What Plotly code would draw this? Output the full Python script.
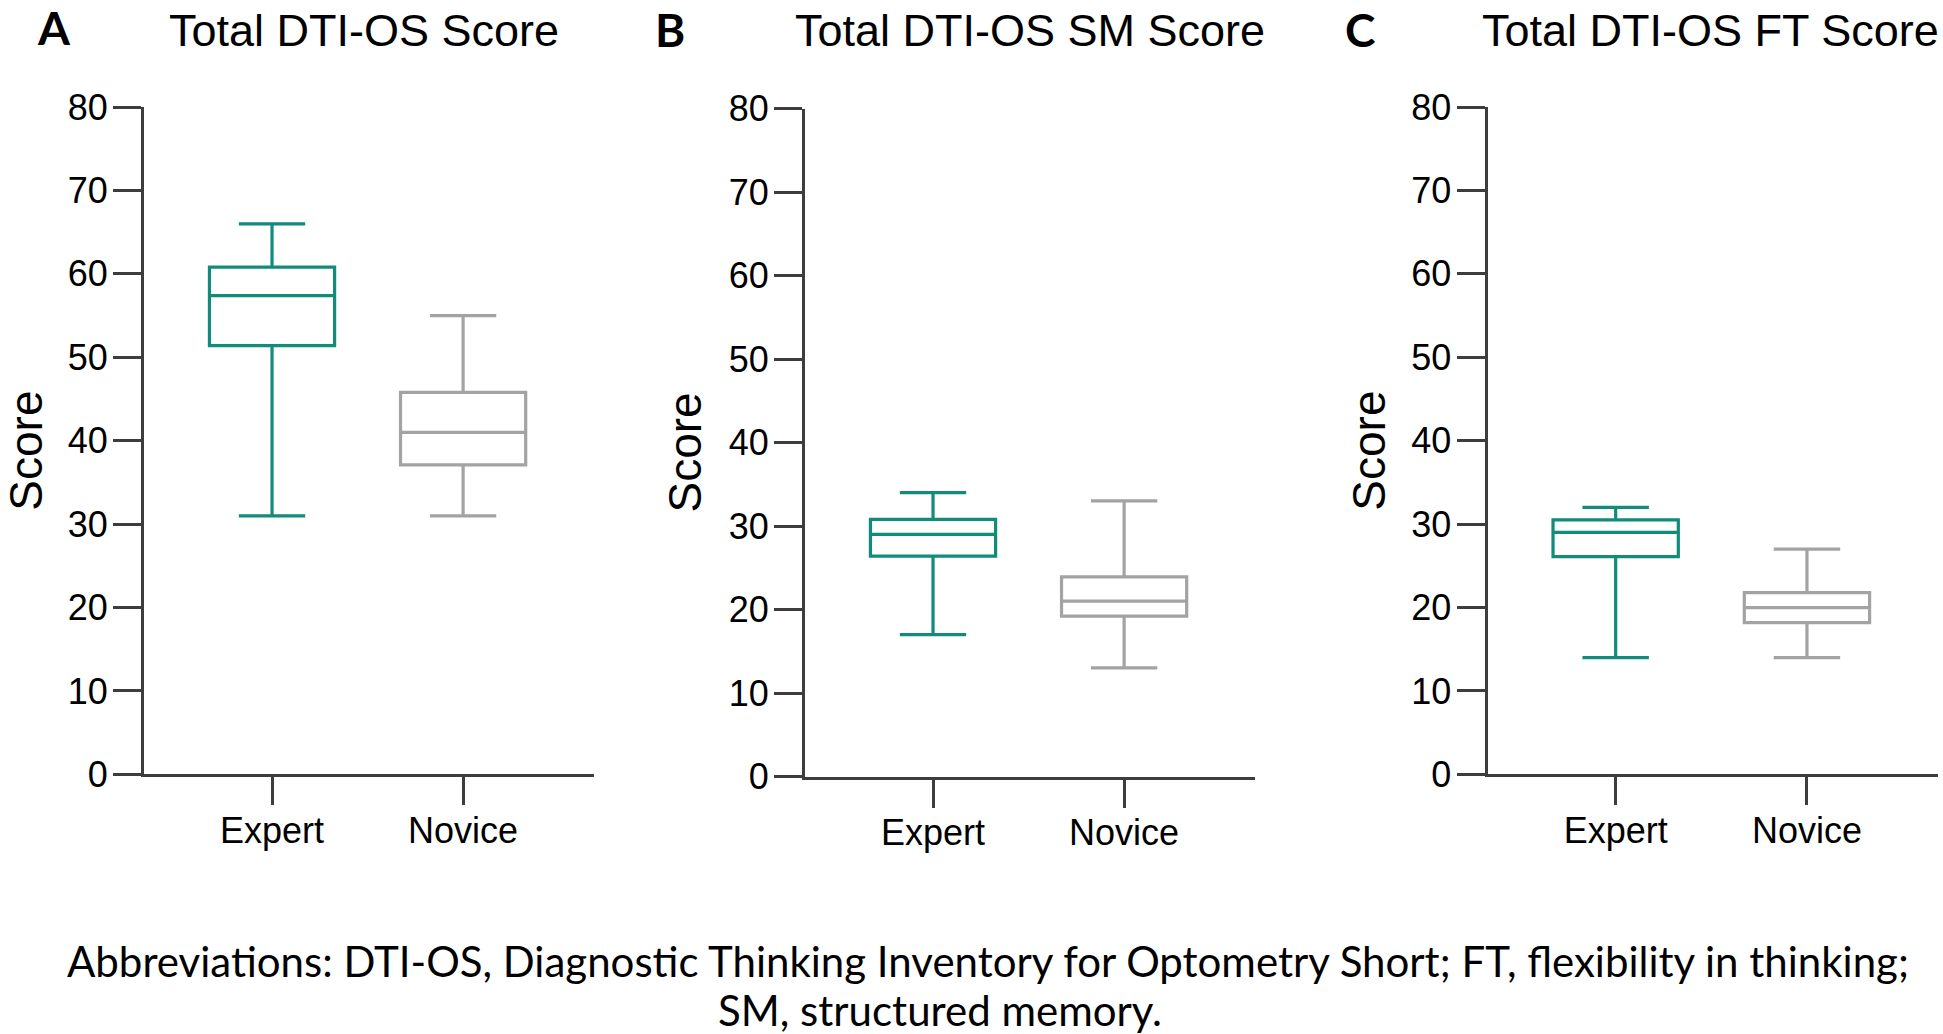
import plotly.graph_objects as go

# ---- data ----
groups = ["Expert", "Novice"]
panel_letters = ["A", "B", "C"]
panel_titles = ["Total DTI-OS Score", "Total DTI-OS SM Score", "Total DTI-OS FT Score"]

# box statistics per panel, [Expert, Novice]
lower = [[31, 31], [17, 13], [14, 14]]
q1 = [[51.4, 37.1], [26.4, 19.2], [26.1, 18.2]]
median = [[57.4, 41.0], [29.0, 21.0], [29.0, 20.0]]
q3 = [[60.8, 45.8], [30.8, 23.9], [30.5, 21.8]]
upper = [[66, 55], [34, 33], [32, 27]]

y_ticks = list(range(0, 81, 10))
caption_lines = [
    "Abbreviations: DTI-OS, Diagnostic Thinking Inventory for Optometry Short; FT, flexibility in thinking;",
    "SM, structured memory.",
]

# ---- styling / layout ----
W, H = 1943, 1034
colors = ["#128c7a", "#a3a3a3"]
axis_color = "#3d3d3d"
arial = "Liberation Sans, Arial, sans-serif"

# pixel boxes of the three plot areas: (left, right, top, bottom)
panels_px = [(144, 594, 107, 774.4), (805, 1255, 108.5, 776.5), (1487.5, 1938, 107, 774.4)]
title_left = [166.7, 793.3, 1480]
letter_x = [54, 670, 1359.5]
letter_y = [27.5, 29, 29]
score_x = [26, 684, 1369]


def fx(px):
    return px / W


def fy(py):
    return 1 - py / H


fig = go.Figure()
layout = dict(
    width=W, height=H,
    margin=dict(l=0, r=0, t=0, b=0, autoexpand=False),
    paper_bgcolor="white", plot_bgcolor="white",
    boxmode="overlay", showlegend=False,
)
annotations = []

for i in range(3):
    left, right, top, bottom = panels_px[i]
    sfx = "" if i == 0 else str(i + 1)
    for g in range(2):
        fig.add_trace(go.Box(
            x=[groups[g]], q1=[q1[i][g]], median=[median[i][g]], q3=[q3[i][g]],
            lowerfence=[lower[i][g]], upperfence=[upper[i][g]],
            width=0.655, whiskerwidth=0.53, boxpoints=False,
            line=dict(color=colors[g], width=3.2), fillcolor="rgba(0,0,0,0)",
            xaxis="x" + sfx, yaxis="y" + sfx, name=groups[g],
        ))
    common = dict(
        showline=True, linecolor=axis_color, linewidth=3,
        ticks="outside", tickcolor=axis_color, tickwidth=3, ticklen=28,
        showgrid=False, zeroline=False, automargin=False,
        tickfont=dict(family=arial, size=36, color="black"),
    )
    layout["xaxis" + sfx] = dict(
        common, domain=[fx(left), fx(right)], anchor="y" + sfx,
        type="category", categoryorder="array", categoryarray=groups,
        range=[-0.67, 1.685], ticklabelstandoff=-6,
    )
    layout["yaxis" + sfx] = dict(
        common, domain=[fy(bottom), fy(top)], anchor="x" + sfx,
        range=[0, 80], tickvals=y_ticks, ticklabelstandoff=-2,
    )

    annotations.append(dict(
        text=panel_letters[i], x=fx(letter_x[i]), y=fy(letter_y[i]),
        xref="paper", yref="paper", xanchor="center", yanchor="middle",
        showarrow=False, font=dict(family="Lato", size=46, color="black", weight="bold"),
    ))
    annotations.append(dict(
        text=panel_titles[i], x=fx(title_left[i]), y=fy(31),
        xref="paper", yref="paper", xanchor="left", yanchor="middle",
        showarrow=False, font=dict(family=arial, size=45, color="black"),
    ))
    annotations.append(dict(
        text="Score", x=fx(score_x[i]), y=fy((top + bottom) / 2 + 10),
        xref="paper", yref="paper", xanchor="center", yanchor="middle",
        textangle=-90, showarrow=False,
        font=dict(family=arial, size=46, color="black"),
    ))

annotations.append(dict(
    text=caption_lines[0], x=fx(988), y=fy(961),
    xref="paper", yref="paper", xanchor="center", yanchor="middle",
    showarrow=False, font=dict(family="Lato", size=42, color="black"),
))
annotations.append(dict(
    text=caption_lines[1], x=fx(940), y=fy(1010),
    xref="paper", yref="paper", xanchor="center", yanchor="middle",
    showarrow=False, font=dict(family="Lato", size=42, color="black"),
))

layout["annotations"] = annotations
fig.update_layout(**layout)

# the page's default body margin would shift the whole figure by 8 px
fig.write_html(
    "out.html",
    config={"displayModeBar": False},
    post_script="document.body.style.margin = '0';",
)
